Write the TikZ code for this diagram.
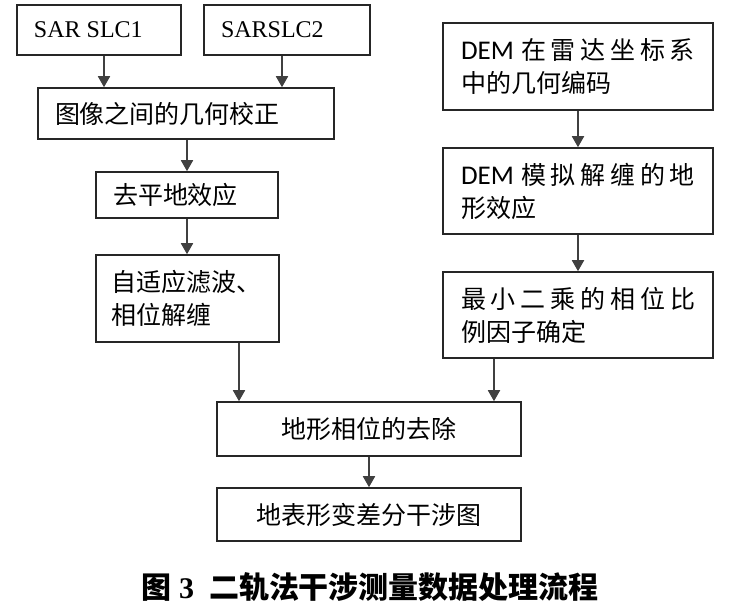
\documentclass[tikz,border=0pt]{standalone}
\usepackage{fontspec}
\usepackage{tikz}
\usetikzlibrary{arrows.meta}

\newfontfamily\cjk{Noto Sans CJK SC}
\newfontfamily\tnr{Liberation Serif}
\newfontfamily\dem[Scale=1.08]{Carlito}

% let lines break (and stretch) between Chinese characters
\XeTeXlinebreaklocale "zh"
\XeTeXlinebreakskip=0pt plus 8pt

\tikzset{
	box/.style={draw=black!85, line width=1.6pt, inner xsep=17pt, inner ysep=0pt,
		align=justify, font=\cjk\fontsize{25}{33}\selectfont},
	slcbox/.style={box, font=\tnr\fontsize{24}{30}\selectfont},
	link/.style={draw=black!75, line width=1.8pt, -{Triangle[length=11pt, width=12pt]}}
}

\begin{document}
\begin{tikzpicture}[x=1pt, y=-1pt]
	
	% page of the scan: (0,0) is its top left corner, y runs downwards
	\fill[white] (0,0) rectangle (732,606);
	\useasboundingbox (0,0) rectangle (732,606);
	
	%%%%%%%%%%%%%%%%%%%%%%%%%%%%%%%%%%%%%%%%%%%%%%%%%%%%%%%%%%%%%%
	% LEFT BRANCH: the two SAR images
	\node[slcbox, text width=130pt, minimum height=50pt] (S1) at (99,30) {SAR SLC1};
	\node[slcbox, text width=132pt, minimum height=50pt] (S2) at (287,30) {SARSLC2};
	
	\node[box, text width=262pt, minimum height=51pt] (G) at (186,113.5) {图像之间的几何校正};
	\node[box, text width=148pt, minimum height=46pt] (F) at (187,195) {去平地效应};
	\node[box, inner xsep=15pt, text width=153pt, minimum height=87pt] (U) at (187.5,298.5)
		{自适应滤波、\\相位解缠};
	
	% RIGHT BRANCH: the DEM
	\node[box, inner xsep=18pt, text width=234pt, minimum height=87pt] (D1) at (578,66.5)
		{{\dem DEM} 在雷达坐标系\linebreak 中的几何编码};
	\node[box, inner xsep=18pt, text width=234pt, minimum height=86pt] (D2) at (578,191)
		{{\dem DEM} 模拟解缠的地\linebreak 形效应};
	\node[box, inner xsep=18pt, text width=234pt, minimum height=86pt] (L) at (578,315)
		{最小二乘的相位比\linebreak 例因子确定};
	
	% BOTH BRANCHES MEET HERE
	\node[box, align=flush center, text width=270pt, minimum height=54pt] (R) at (369,429) {地形相位的去除};
	\node[box, align=flush center, text width=270pt, minimum height=53pt] (E) at (369,514.5) {地表形变差分干涉图};
	
	% caption
	\node[font=\cjk\bfseries\fontsize{30}{36}\selectfont] (T) at (370,587)
		{图\hspace{8pt}{\tnr\bfseries 3}\hspace{15pt}二轨法干涉测量数据处理流程};
	
	%%%%%%%%%%%%%%%%%%%%%%%%%%%%%%%%%%%%%%%%%%%%%%%%%%%%%%%%%%%%%%
	\draw[link] ([xshift=5pt]S1.south) -- ([xshift=5pt]S1.south |- G.north);
	\draw[link] ([xshift=-5pt]S2.south) -- ([xshift=-5pt]S2.south |- G.north);
	\draw[link] (G.south -| F.north) -- (F.north);
	\draw[link] (F.south) -- (F.south |- U.north);
	\draw[link] ([xshift=51.5pt]U.south) -- ([xshift=51.5pt]U.south |- R.north);
	
	\draw[link] (D1.south) -- (D2.north);
	\draw[link] (D2.south) -- (L.north);
	\draw[link] ([xshift=-84pt]L.south) -- ([xshift=-84pt]L.south |- R.north);
	
	\draw[link] (R.south) -- (E.north);
	
\end{tikzpicture}
\end{document}
